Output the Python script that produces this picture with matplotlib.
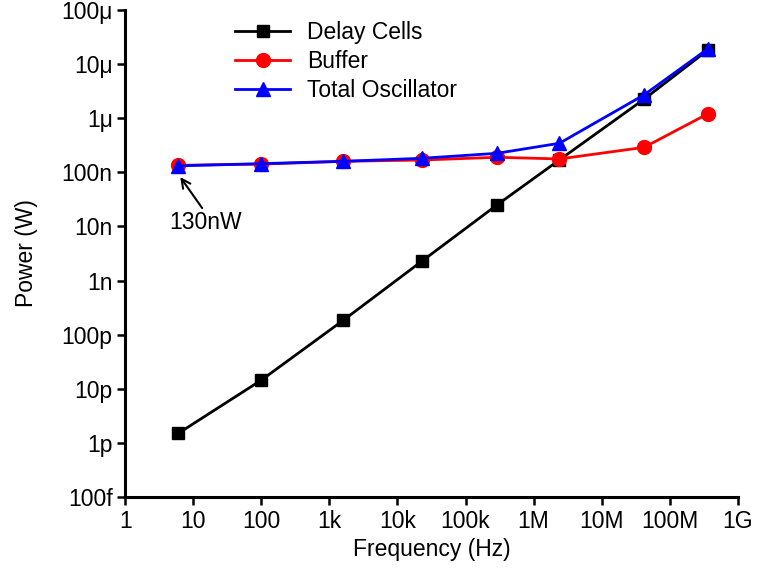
import matplotlib
matplotlib.use("Agg")
import matplotlib.pyplot as plt
from matplotlib.ticker import FixedLocator, NullLocator

plt.rcParams['font.family'] = ['Liberation Sans', 'DejaVu Sans']

# Oscillator frequency (Hz)
freq = [6.0, 100, 1.6e3, 23e3, 2.9e5, 2.4e6, 4.2e7, 3.6e8]

# Power (W)
delay_cells = [1.5e-12, 1.45e-11, 1.85e-10, 2.3e-9, 2.5e-8, 1.7e-7, 2.25e-6, 1.8e-5]
buffer_pw = [1.35e-7, 1.42e-7, 1.6e-7, 1.69e-7, 1.9e-7, 1.77e-7, 2.9e-7, 1.2e-6]
total_osc = [1.32e-7, 1.45e-7, 1.6e-7, 1.82e-7, 2.25e-7, 3.45e-7, 2.7e-6, 1.9e-5]

x_ticks = [1, 1e1, 1e2, 1e3, 1e4, 1e5, 1e6, 1e7, 1e8, 1e9]
x_labels = ["1", "10", "100", "1k", "10k", "100k", "1M", "10M", "100M", "1G"]
y_ticks = [1e-13, 1e-12, 1e-11, 1e-10, 1e-9, 1e-8, 1e-7, 1e-6, 1e-5, 1e-4]
y_labels = ["100f", "1p", "10p", "100p", "1n", "10n", "100n", "1\u03bc", "10\u03bc", "100\u03bc"]

FS = 16.5

fig = plt.figure(figsize=(7.59, 5.72), dpi=100)
ax = fig.add_axes([0.165, 0.131, 0.807, 0.8515])

lw = 2.0
ax.plot(freq, delay_cells, color='black', marker='s', markersize=8.5, lw=lw,
        label='Delay Cells', zorder=3)
ax.plot(freq, buffer_pw, color='#ff0000', marker='o', markersize=10, lw=lw,
        label='Buffer', zorder=4)
ax.plot(freq, total_osc, color='#0000ff', marker='^', markersize=10.5, lw=lw,
        label='Total Oscillator', zorder=5)

ax.set_xscale('log')
ax.set_yscale('log')
ax.set_xlim(1, 1e9)
ax.set_ylim(1e-13, 1e-4)

ax.xaxis.set_major_locator(FixedLocator(x_ticks))
ax.yaxis.set_major_locator(FixedLocator(y_ticks))
ax.xaxis.set_minor_locator(NullLocator())
ax.yaxis.set_minor_locator(NullLocator())
ax.set_xticklabels(x_labels)
ax.set_yticklabels(y_labels)

for side in ('top', 'right'):
    ax.spines[side].set_visible(False)
for side in ('left', 'bottom'):
    ax.spines[side].set_linewidth(2.2)
ax.tick_params(axis='both', which='major', direction='out', length=6,
               width=1.8, labelsize=FS, pad=3)

ax.set_xlabel('Frequency (Hz)', fontsize=FS, labelpad=4)
ax.set_ylabel('Power (W)', fontsize=FS, labelpad=17)

# Lowest total power callout
ax.annotate('', xy=(6.43, 8.2e-8), xytext=(13.5, 2.19e-8),
            arrowprops=dict(arrowstyle='->', color='black', lw=1.5,
                            shrinkA=0, shrinkB=0, mutation_scale=16))
ax.text(14.9, 1.16e-8, '130nW', fontsize=FS, ha='center', va='center')

leg = ax.legend(loc='upper left', bbox_to_anchor=(0.165, 0.996), frameon=False,
                fontsize=FS, handlelength=2.4, handletextpad=0.74,
                labelspacing=0.26, borderaxespad=0)

fig.savefig('out.png', dpi=100)
